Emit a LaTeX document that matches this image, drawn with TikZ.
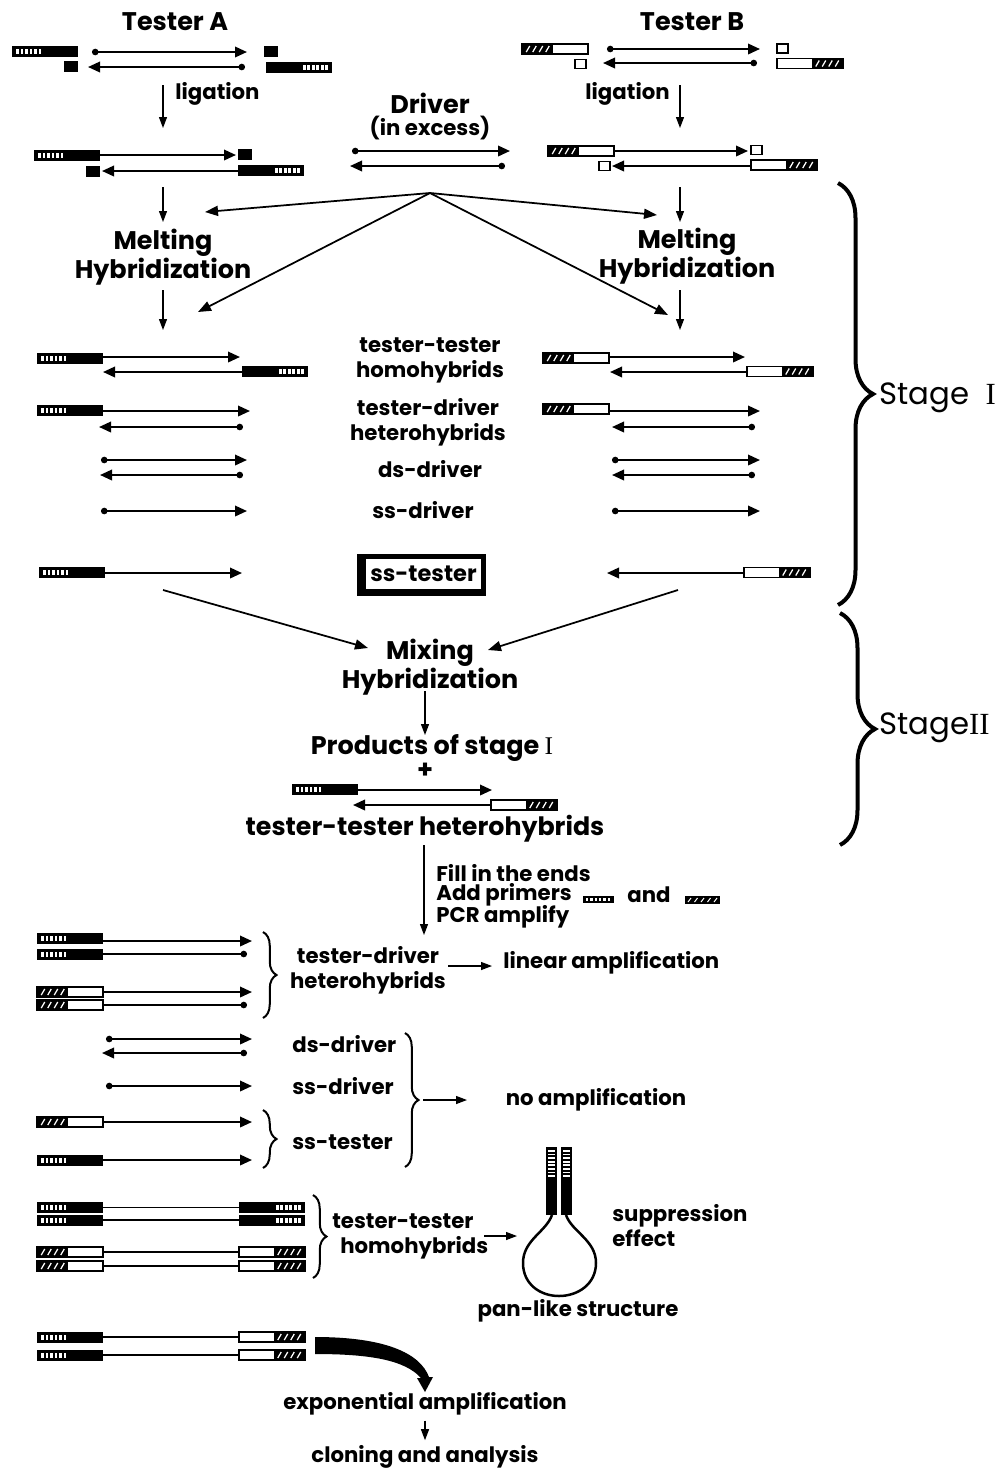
\documentclass[tikz,border=0pt]{standalone}
\usepackage{fontspec}
\setmainfont{Poppins}
\newfontfamily\romanfont{Liberation Serif}
\usetikzlibrary{arrows.meta,decorations.pathreplacing,backgrounds,positioning}

% adapter with ladder (tester A), #1 outer end x, #2 y, #3 direction (1 = right, -1 = left)
\newcommand{\adapterA}[3]{%
  \begin{scope}[shift={(#1,#2)},xscale=#3]
    \fill (0,-5.5) rectangle (66,5.5);
    \foreach \k in {0,...,5} \fill[white] (4+\k*4.5,-2.5) rectangle ++(2.6,5);
  \end{scope}}
% adapter with hatch (tester B)
\newcommand{\adapterB}[3]{%
  \begin{scope}[shift={(#1,#2)},xscale=#3]
    \fill (0,-5) rectangle (31,5);
    \foreach \k in {0,...,3} \draw[white,line width=0.25mm] (6+\k*6.5-1.75*#3,3) -- ++(3.5*#3,-6);
    \draw[line width=0.35mm] (0,-5) rectangle (66,5);
  \end{scope}}
% short unligated adapter halves
\newcommand{\stubA}[2]{\fill (#1,#2-5.5) rectangle ++(14,11);}
\newcommand{\stubB}[2]{\draw[line width=0.35mm] (#1,#2-4.5) rectangle ++(11,9);}

\tikzset{
  lbl/.style={font=\fontsize{12.1}{14.2}\selectfont\bfseries, inner sep=0pt, align=center},
  hdr/.style={font=\fontsize{14.5}{14.2}\selectfont\bfseries, inner sep=0pt, align=center},
  bighdr/.style={font=\fontsize{14.4}{18}\selectfont\bfseries, inner sep=0pt},
  stagelbl/.style={font=\fontsize{17.5}{20}\selectfont, inner sep=0pt},
  ssbox/.style={font=\fontsize{12.8}{14}\selectfont\bfseries, draw, fill=white, line width=0.3mm,
    minimum width=23.4mm, minimum height=6.4mm, inner sep=0pt},
  dna/.style={line width=0.4mm},
  fwd/.style={-{Triangle[length=2.4mm,width=2.1mm]}},
  dotfwd/.style={{Circle[length=1.3mm]}-{Triangle[length=2.4mm,width=2.1mm]}},
  todot/.style={-{Circle[length=1.3mm]}},
  flowarrow/.style={line width=0.25mm, -{Triangle[length=2.2mm,width=1.6mm]}},
  thickarrow/.style={line width=0.35mm, -{Triangle[length=2.6mm,width=2mm]}},
  bigbrace/.style={line width=0.8mm, decorate, decoration={brace,amplitude=7mm}},
  smallbrace/.style={line width=0.4mm, decorate, decoration={brace,amplitude=2.7mm}}
}

\begin{document}
\begin{tikzpicture}[x=0.2mm,y=-0.2mm]
  \useasboundingbox (0,0) rectangle (997,1469);

  % testers before ligation
  \node[hdr] (testerA) at (175,22) {Tester A};
  \node[hdr] (testerB) at (692,22) {Tester B};
  \adapterA{12}{51}{1}
  \stubA{64}{66.5}
  \draw[dna,dotfwd] (92,52) -- (247,52);
  \draw[dna,dotfwd] (245,67) -- (88,67);
  \stubA{264}{51.5}
  \adapterA{332}{67}{-1}
  \adapterB{522}{49}{1}
  \stubB{575}{64}
  \draw[dna,dotfwd] (607,49) -- (760,49);
  \draw[dna,dotfwd] (757,63) -- (603,63);
  \stubB{777}{48.5}
  \adapterB{843}{63.5}{-1}

  % ligation
  \coordinate (ligA1) at (163,85);
  \coordinate (ligA2) at (163,128);
  \coordinate (ligB1) at (680,85);
  \coordinate (ligB2) at (680,128);
  \draw[flowarrow] (ligA1) -- (ligA2);
  \draw[flowarrow] (ligB1) -- (ligB2);
  \node[lbl,anchor=west] (ligA) at (175,94) {ligation};
  \node[lbl,anchor=east] (ligB) at (670,94) {ligation};

  % ligated testers
  \adapterA{34}{155}{1}
  \draw[dna,fwd] (100,155) -- (236,155);
  \stubA{238}{154}
  \stubA{86}{171.5}
  \draw[dna,fwd] (238,171) -- (102,171);
  \adapterA{304}{170}{-1}
  \adapterB{548}{151}{1}
  \draw[dna,fwd] (614,151) -- (748,151);
  \stubB{751}{150}
  \stubB{599}{166}
  \draw[dna,fwd] (751,166) -- (612,166);
  \adapterB{817}{165}{-1}

  % driver
  \node[hdr] (driver) at (430,103) {Driver};
  \node[lbl] (excess) at (430,128) {(in excess)};
  \draw[dna,dotfwd] (352,151) -- (510,151);
  \draw[dna,dotfwd] (505,166) -- (350,166);

  % first hybridization
  \node[hdr] (meltA) at (163,257) {Melting\\Hybridization};
  \node[hdr] (meltB) at (687,256) {Melting\\Hybridization};
  \coordinate (downA) at (163,187);
  \coordinate (downB) at (680,187);
  \draw[flowarrow] (downA) -- (163,222);
  \draw[flowarrow] (downB) -- (680,222);
  \coordinate (drv) at (430,193);
  \draw[thickarrow] (drv) -- (205,212);
  \draw[thickarrow] (drv) -- (657,215);
  \draw[thickarrow] (drv) -- (198,312);
  \draw[thickarrow] (drv) -- (668,315);
  \draw[flowarrow] (163,290) -- (163,330);
  \draw[flowarrow] (680,290) -- (680,330);

  % products of stage I, tester A side
  \adapterA{37}{358}{1}
  \draw[dna,fwd] (103,357) -- (240,357);
  \draw[dna,fwd] (242,372) -- (103,372);
  \adapterA{308}{371.5}{-1}
  \adapterA{37}{410}{1}
  \draw[dna,fwd] (103,411) -- (250,411);
  \draw[dna,dotfwd] (243,427) -- (99,427);
  \draw[dna,dotfwd] (101,460) -- (247,460);
  \draw[dna,dotfwd] (243,475) -- (100,475);
  \draw[dna,dotfwd] (101,511) -- (247,511);
  \adapterA{39}{572.5}{1}
  \draw[dna,fwd] (105,573) -- (242,573);

  % tester B side
  \adapterB{543}{358}{1}
  \draw[dna,fwd] (609,357) -- (745,357);
  \draw[dna,fwd] (746,372) -- (610,372);
  \adapterB{813}{371.5}{-1}
  \adapterB{543}{409}{1}
  \draw[dna,fwd] (609,411) -- (760,411);
  \draw[dna,dotfwd] (755,427) -- (612,427);
  \draw[dna,dotfwd] (612,460) -- (760,460);
  \draw[dna,dotfwd] (755,475) -- (612,475);
  \draw[dna,dotfwd] (612,511) -- (760,511);
  \draw[dna,fwd] (745,573) -- (607,573);
  \adapterB{810}{572.5}{-1}

  \node[lbl] (tthomo) at (430,360) {tester-tester\\homohybrids};
  \node[lbl] (tdhet) at (428,422) {tester-driver\\heterohybrids};
  \node[lbl] (dsdrv) at (430,469) {ds-driver};
  \node[lbl] (ssdrv) at (423,510) {ss-driver};
  \node[ssbox] (sstest) at (423.5,574) {ss-tester};
  \begin{scope}[on background layer]
    \fill ([shift={(-7,-3)}]sstest.north west) rectangle ([shift={(3,5)}]sstest.south east);
  \end{scope}

  % second hybridization
  \coordinate (mixA) at (163,590);
  \coordinate (mixB) at (678,590);
  \node[hdr] (mix) at (430,667) {Mixing\\Hybridization};
  \draw[thickarrow] (mixA) -- (368,648);
  \draw[thickarrow] (mixB) -- (488,650);
  \node[hdr] (prod) at (432,748) {Products of stage {\romanfont\mdseries I}};
  \draw[flowarrow] (425,691) -- (425,735);
  \node[hdr] (plus) at (425,771) {+};
  \adapterA{292}{789}{1}
  \draw[dna,fwd] (358,790) -- (492,790);
  \draw[dna,fwd] (492,805) -- (353,805);
  \adapterB{557}{805}{-1}
  \node[bighdr] (tthet) at (425,829) {tester-tester heterohybrids};

  % stage braces
  \draw[bigbrace] (838,183) -- (838,605);
  \draw[bigbrace] (840,613) -- (840,845);
  \node[stagelbl,anchor=west] (stage1) at (879,398) {Stage\ \ {\romanfont I}};
  \node[stagelbl,anchor=west] (stage2) at (879,728) {Stage{\romanfont II}};

  % PCR
  \coordinate (pcrend) at (424,935);
  \draw[flowarrow] (424,845) -- (pcrend);
  \node[lbl,anchor=west] (fill) at (436,873) {Fill in the ends};
  \node[lbl,anchor=west] (primers) at (436,895) {Add primers};
  \node[lbl,anchor=west] (andw) at (627,895) {and};
  \node[lbl,anchor=west] (pcr) at (436,917) {PCR amplify};
  \fill (583,896) rectangle (614,903);
  \foreach \k in {0,...,5} \fill[white] (586+\k*4.3,898) rectangle ++(2.4,3);
  \fill (685,896) rectangle (720,904);
  \foreach \k in {0,...,4} \draw[white,line width=0.2mm] (688+\k*6.5,902) -- ++(3,-4);

  % tester-driver heterohybrids
  \adapterA{37}{938.5}{1}
  \draw[dna,fwd] (103,941) -- (252,941);
  \adapterA{37}{954}{1}
  \draw[dna,todot] (103,954) -- (247,954);
  \adapterB{37}{992}{1}
  \draw[dna,fwd] (103,992) -- (252,992);
  \adapterB{37}{1005}{1}
  \draw[dna,todot] (103,1005) -- (247,1005);
  \draw[smallbrace] (263,932) -- (263,1018);
  \node[lbl] (tdhet2) at (368,970) {tester-driver\\heterohybrids};
  \node[lbl,anchor=west] (linamp) at (503,963) {linear amplification};
  \draw[flowarrow] (448,966) -- (492,966);

  % no amplification
  \draw[dna,dotfwd] (106,1039) -- (252,1039);
  \draw[dna,dotfwd] (247,1053) -- (102,1053);
  \draw[dna,dotfwd] (106,1086) -- (252,1086);
  \adapterB{37}{1122}{1}
  \draw[dna,fwd] (103,1122) -- (252,1122);
  \adapterA{37}{1160}{1}
  \draw[dna,fwd] (103,1160) -- (252,1160);
  \draw[smallbrace] (263,1110) -- (263,1168);
  \node[lbl,anchor=west] (dsdrv2) at (292,1044) {ds-driver};
  \node[lbl,anchor=west] (ssdrv2) at (292,1086) {ss-driver};
  \node[lbl,anchor=west] (sstest2) at (292,1142) {ss-tester};
  \draw[smallbrace] (405,1033) -- (405,1167);
  \node[lbl] (noamp) at (596,1100) {no amplification};
  \draw[flowarrow] (423,1100) -- (467,1100);

  % tester-tester homohybrids
  \foreach \yy in {1207.5,1220} {
    \adapterA{37}{\yy}{1}
    \draw[line width=0.3mm] (103,\yy) -- (240,\yy);
    \adapterA{305}{\yy}{-1}
  }
  \foreach \yy in {1252,1266} {
    \adapterB{37}{\yy}{1}
    \draw[line width=0.3mm] (103,\yy) -- (240,\yy);
    \adapterB{305}{\yy}{-1}
  }
  \draw[smallbrace] (313,1195) -- (313,1278);
  \node[lbl,anchor=west,align=left] (tthomo2) at (332,1236) {tester-tester\\\hspace*{1.6mm}homohybrids};
  \draw[flowarrow] (484,1236) -- (517,1236);

  % pan-like structure
  \fill (546,1147) rectangle (557,1215);
  \fill (561,1147) rectangle (572,1215);
  \foreach \k in {0,...,7} {
    \fill[white] (548,1150+\k*3.6) rectangle ++(7,1.8);
    \fill[white] (563,1150+\k*3.6) rectangle ++(7,1.8);
  }
  \draw[line width=0.5mm] (552,1215) .. controls (546,1232) and (523,1240) .. (523,1263)
    .. controls (523,1284) and (540,1296) .. (559,1296)
    .. controls (578,1296) and (596,1284) .. (596,1263)
    .. controls (596,1240) and (572,1232) .. (566,1215);
  \node[lbl,anchor=west,align=left] (supp) at (612,1226) {suppression\\effect};
  \node[lbl] (panlbl) at (578,1311) {pan-like structure};

  % exponential amplification
  \foreach \yy in {1337,1355} {
    \adapterA{37}{\yy}{1}
    \draw[line width=0.3mm] (103,\yy) -- (239,\yy);
    \adapterB{305}{\yy}{-1}
  }
  \fill (315,1337) .. controls (385,1337) and (420,1353) .. (429,1377) -- (433,1377) -- (425,1392)
    -- (417,1378) -- (421,1378) .. controls (405,1360) and (370,1354) .. (315,1354) -- cycle;
  \node[lbl] (expamp) at (425,1404) {exponential amplification};
  \node[lbl] (clone) at (425,1457) {cloning and analysis};
  \draw[flowarrow] ([yshift=-1mm]expamp.south) -- ([yshift=1mm]clone.north);
\end{tikzpicture}
\end{document}
